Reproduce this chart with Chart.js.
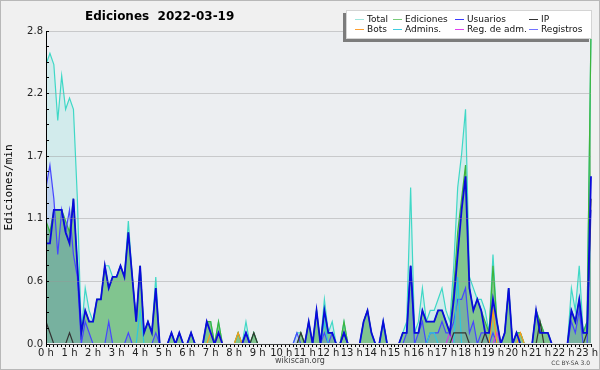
<!DOCTYPE html>
<html>
<head>
<meta charset="utf-8">
<script src="https://cdn.jsdelivr.net/npm/chart.js@4"></script>
<style>
  body { margin: 0; background: #f0f0f0; }
  #wrap { position: relative; width: 600px; height: 370px; overflow: hidden; background: #f0f0f0; }
  #chart { position: absolute; left: 0; top: 0; }
  #frame { position: absolute; left: 0; top: 0; width: 598px; height: 368px; border: 1px solid #b8b8b8; pointer-events: none; }
  #title { position: absolute; left: 85px; top: 9px; font: bold 12px "DejaVu Sans"; color: #000; white-space: pre; }
  #legend { position: absolute; left: 346px; top: 10px; width: 244px; height: 27px; background: #fff;
            border: 1px solid #d4d4d4; box-shadow: -3px 3px 0 #7c7c7c; font: 9px "DejaVu Sans"; color: #111; }
  #legend .item { position: absolute; height: 10px; line-height: 10px; white-space: nowrap; }
  #legend .sw { position: absolute; top: 5px; width: 9px; height: 1px; }
  #legend .tx { position: absolute; left: 12px; top: 0; }
  #site { position: absolute; left: 0; width: 600px; top: 356px; text-align: center; font: 8px "DejaVu Sans"; color: #444; }
  #lic { position: absolute; right: 10px; top: 359px; font: 6px "DejaVu Sans"; color: #444; }
</style>
</head>
<body>
<div id="wrap">
  <canvas id="chart" width="600" height="370"></canvas>
  <div id="title">Ediciones  2022-03-19</div>
  <div id="legend"></div>
  <div id="site">wikiscan.org</div>
  <div id="lic">CC BY-SA 3.0</div>
  <div id="frame"></div>
</div>
<script>
// edits per 10-minute bin, 0h00 .. 23h10 (one row = 2 hours)
const total = [
  25, 26, 25, 20, 24, 21, 22, 21, 13, 1, 5, 3,
  2, 4, 4, 7, 7, 6, 6, 7, 6, 11, 6, 2,
  7, 1, 2, 1, 6, 0, 0, 0, 1, 0, 1, 0,
  0, 1, 0, 0, 0, 2, 2, 0, 2, 0, 0, 0,
  0, 1, 0, 2, 0, 1, 0, 0, 0, 0, 0, 0,
  0, 0, 0, 0, 1, 1, 0, 2, 0, 3, 0, 4,
  1, 2, 0, 0, 2, 0, 0, 0, 0, 2, 3, 1,
  0, 0, 2, 0, 0, 0, 0, 1, 2, 14, 1, 2,
  5, 2, 3, 3, 4, 5, 3, 2, 7, 14, 17, 21,
  6, 5, 4, 4, 3, 1, 8, 2, 0, 1, 5, 0,
  1, 1, 0, 0, 0, 3, 2, 1, 1, 0, 0, 0,
  0, 0, 5, 3, 7, 1, 2, 28
];
const edits = [
  11, 10, 12, 12, 12, 11, 10, 13, 7, 1, 3, 2,
  2, 4, 4, 7, 5, 6, 6, 7, 6, 10, 6, 2,
  7, 1, 2, 1, 5, 0, 0, 0, 1, 0, 1, 0,
  0, 1, 0, 0, 0, 2, 2, 0, 2, 0, 0, 0,
  0, 1, 0, 1, 0, 1, 0, 0, 0, 0, 0, 0,
  0, 0, 0, 0, 0, 1, 0, 2, 0, 3, 0, 3,
  1, 1, 0, 0, 2, 0, 0, 0, 0, 2, 3, 1,
  0, 0, 2, 0, 0, 0, 0, 1, 1, 7, 1, 1,
  3, 2, 2, 2, 3, 3, 2, 1, 5, 10, 13, 16,
  5, 3, 4, 3, 2, 1, 7, 2, 0, 1, 5, 0,
  1, 1, 0, 0, 0, 3, 2, 1, 1, 0, 0, 0,
  0, 0, 3, 2, 4, 1, 2, 28
];
const users = [
  9, 9, 12, 12, 12, 10, 9, 13, 7, 1, 3, 2,
  2, 4, 4, 7, 5, 6, 6, 7, 6, 10, 6, 2,
  7, 1, 2, 1, 5, 0, 0, 0, 1, 0, 1, 0,
  0, 1, 0, 0, 0, 2, 1, 0, 1, 0, 0, 0,
  0, 0, 0, 1, 0, 0, 0, 0, 0, 0, 0, 0,
  0, 0, 0, 0, 0, 0, 0, 2, 0, 3, 0, 3,
  1, 1, 0, 0, 1, 0, 0, 0, 0, 2, 3, 1,
  0, 0, 2, 0, 0, 0, 0, 1, 1, 7, 1, 1,
  3, 2, 2, 2, 3, 3, 2, 1, 4, 8, 12, 15,
  5, 3, 4, 3, 1, 1, 4, 2, 0, 1, 5, 0,
  1, 0, 0, 0, 0, 3, 1, 1, 1, 0, 0, 0,
  0, 0, 3, 2, 4, 1, 1, 15
];
const ip = [
  2, 1, 0, 0, 0, 0, 1, 0, 0, 0, 0, 0,
  0, 0, 0, 0, 0, 0, 0, 0, 0, 0, 0, 0,
  0, 0, 0, 0, 0, 0, 0, 0, 0, 0, 0, 0,
  0, 0, 0, 0, 0, 0, 0, 0, 0, 0, 0, 0,
  0, 0, 0, 0, 0, 1, 0, 0, 0, 0, 0, 0,
  0, 0, 0, 0, 0, 1, 0, 0, 0, 0, 0, 0,
  0, 0, 0, 0, 1, 0, 0, 0, 0, 0, 0, 0,
  0, 0, 0, 0, 0, 0, 0, 0, 0, 0, 0, 0,
  0, 0, 0, 0, 0, 0, 0, 0, 1, 1, 1, 1,
  0, 0, 0, 0, 1, 0, 0, 0, 0, 0, 0, 0,
  0, 0, 0, 0, 0, 0, 2, 0, 0, 0, 0, 0,
  0, 0, 0, 0, 0, 0, 1, 13
];
const bots = [
  0, 0, 0, 0, 0, 0, 0, 0, 0, 0, 0, 0,
  0, 0, 0, 0, 0, 0, 0, 0, 0, 0, 0, 0,
  0, 0, 0, 0, 0, 0, 0, 0, 0, 0, 0, 0,
  0, 0, 0, 0, 0, 0, 1, 0, 1, 0, 0, 0,
  0, 1, 0, 0, 0, 0, 0, 0, 0, 0, 0, 0,
  0, 0, 0, 0, 0, 0, 0, 0, 0, 0, 0, 0,
  0, 0, 0, 0, 0, 0, 0, 0, 0, 0, 0, 0,
  0, 0, 0, 0, 0, 0, 0, 0, 0, 0, 0, 0,
  0, 0, 0, 0, 0, 0, 0, 0, 0, 0, 0, 0,
  0, 0, 0, 0, 0, 0, 3, 0, 0, 0, 0, 0,
  0, 1, 0, 0, 0, 0, 0, 0, 0, 0, 0, 0,
  0, 0, 0, 0, 0, 0, 0, 0
];
const admins = [
  0, 0, 0, 0, 0, 0, 0, 0, 0, 0, 0, 0,
  0, 0, 0, 0, 0, 0, 0, 0, 0, 0, 0, 0,
  3, 0, 0, 0, 0, 0, 0, 0, 0, 0, 0, 0,
  0, 0, 0, 0, 0, 0, 0, 0, 0, 0, 0, 0,
  0, 0, 0, 0, 0, 0, 0, 0, 0, 0, 0, 0,
  0, 0, 0, 0, 0, 0, 0, 0, 0, 0, 0, 2,
  0, 0, 0, 0, 0, 0, 0, 0, 0, 0, 0, 0,
  0, 0, 2, 0, 0, 0, 0, 0, 0, 0, 0, 0,
  0, 0, 1, 1, 0, 0, 0, 0, 0, 6, 0, 0,
  0, 0, 0, 0, 0, 0, 0, 0, 0, 0, 0, 0,
  0, 0, 0, 0, 0, 0, 0, 0, 0, 0, 0, 0,
  0, 0, 0, 0, 0, 0, 0, 0
];
const regAdmins = [
  0, 0, 0, 0, 0, 0, 0, 0, 0, 0, 0, 0,
  0, 0, 0, 0, 0, 0, 0, 0, 0, 0, 0, 0,
  0, 0, 0, 0, 0, 0, 0, 0, 0, 0, 0, 0,
  0, 0, 0, 0, 0, 0, 0, 0, 1, 0, 0, 0,
  0, 0, 0, 0, 0, 0, 0, 0, 0, 0, 0, 0,
  0, 0, 0, 0, 0, 0, 0, 0, 0, 0, 0, 0,
  0, 0, 0, 0, 0, 0, 0, 0, 0, 0, 0, 0,
  0, 0, 0, 0, 0, 0, 0, 0, 0, 0, 0, 0,
  0, 0, 0, 0, 0, 0, 0, 1, 0, 0, 0, 0,
  0, 0, 0, 0, 0, 0, 0, 1, 0, 0, 0, 0,
  0, 0, 0, 0, 0, 0, 0, 0, 0, 0, 0, 0,
  0, 0, 0, 0, 0, 0, 0, 0
];
const logs = [
  14, 16, 13, 8, 12, 10, 12, 8, 6, 0, 2, 1,
  0, 0, 0, 0, 2, 0, 0, 0, 0, 1, 0, 0,
  0, 0, 0, 0, 1, 0, 0, 0, 0, 0, 0, 0,
  0, 0, 0, 0, 0, 0, 0, 0, 0, 0, 0, 0,
  0, 0, 0, 1, 0, 0, 0, 0, 0, 0, 0, 0,
  0, 0, 0, 0, 1, 0, 0, 0, 0, 0, 0, 1,
  0, 1, 0, 0, 0, 0, 0, 0, 0, 0, 0, 0,
  0, 0, 0, 0, 0, 0, 0, 0, 1, 7, 0, 1,
  2, 0, 1, 1, 1, 2, 1, 1, 2, 4, 4, 5,
  1, 2, 0, 1, 1, 0, 1, 0, 0, 0, 0, 0,
  0, 0, 0, 0, 0, 0, 0, 0, 0, 0, 0, 0,
  0, 0, 2, 1, 3, 0, 0, 12
];

const yTicks = ['0.0', '0.6', '1.1', '1.7', '2.2', '2.8'];
const hourLabels = ['0 h', '1 h', '2 h', '3 h', '4 h', '5 h', '6 h', '7 h', '8 h', '9 h', '10 h', '11 h',
  '12 h', '13 h', '14 h', '15 h', '16 h', '17 h', '18 h', '19 h', '20 h', '21 h', '22 h', '23 h'];

// legend order as in the picture, with draw order (higher = further back)
const seriesDefs = [
  { label: 'Total', data: total, color: '#3fd8c6', order: 8, fill: 'rgba(64,224,208,0.15)' },
  { label: 'Ediciones', data: edits, color: '#3cb43c', order: 7, fill: 'rgba(30,150,30,0.45)' },
  { label: 'Usuarios', data: users, color: '#0a0adc', order: 1, width: 1.8 },
  { label: 'IP', data: ip, color: '#333333', order: 2 },
  { label: 'Bots', data: bots, color: '#ff9a1a', order: 3 },
  { label: 'Admins.', data: admins, color: '#2cc8e0', order: 4 },
  { label: 'Reg. de adm.', data: regAdmins, color: '#d83ae8', order: 5 },
  { label: 'Registros', data: logs, color: '#4646ff', order: 6, fill: 'rgba(70,70,255,0.15)' }
];

const legendColors = ['#9ee6dc', '#79cc79', '#3b3bff', '#333333', '#ffa030', '#40cde0', '#e040f0', '#7272ff'];
const legendSlots = [[0, 0], [1, 0], [2, 0], [3, 0], [0, 1], [1, 1], [2, 1], [3, 1]];
const legendCols = [8, 46, 108, 182];

const legendBox = document.getElementById('legend');
seriesDefs.forEach((s, i) => {
  const [col, row] = legendSlots[i];
  const item = document.createElement('div');
  item.className = 'item';
  item.style.left = legendCols[col] + 'px';
  item.style.top = (3 + row * 10) + 'px';
  item.innerHTML = '<span class="sw" style="background:' + legendColors[i] + '"></span><span class="tx">' + s.label + '</span>';
  legendBox.appendChild(item);
});

const plotBackground = {
  id: 'plotBackground',
  beforeDraw(chart) {
    const { ctx, chartArea: a } = chart;
    ctx.save();
    ctx.fillStyle = '#eceef1';
    ctx.fillRect(a.left, a.top, a.right - a.left, a.bottom - a.top);
    ctx.restore();
  }
};

const datasets = seriesDefs.map(s => ({
  label: s.label,
  data: s.data.map((v, i) => ({ x: i, y: v / 10 })),
  borderColor: s.color,
  backgroundColor: s.fill || 'rgba(0,0,0,0)',
  fill: s.fill ? 'origin' : false,
  borderWidth: s.width || 1.2,
  pointRadius: 0,
  tension: 0,
  order: s.order,
  // keep zero-level lines hidden behind the x axis
  clip: { left: 0, top: 2, right: 2, bottom: -1 }
}));

new Chart(document.getElementById('chart'), {
  type: 'line',
  data: { datasets },
  options: {
    responsive: false,
    animation: false,
    events: [],
    layout: { padding: { top: 31, right: 9, left: 0, bottom: 0 } },
    plugins: {
      legend: { display: false },
      tooltip: { enabled: false },
      filler: { drawTime: 'beforeDatasetsDraw' }
    },
    scales: {
      x: {
        type: 'linear',
        min: 0,
        max: total.length - 1,
        afterFit(scale) { scale.height = 26; },
        ticks: {
          stepSize: 1,
          autoSkip: false,
          maxRotation: 0,
          padding: 0,
          color: '#222',
          font: { family: 'DejaVu Sans', size: 10 },
          callback: v => (v % 6 === 0 ? hourLabels[v / 6] : '')
        },
        grid: { drawOnChartArea: false, tickLength: 3, tickColor: '#000' },
        border: { color: '#000', z: 1 }
      },
      y: {
        min: 0,
        max: 2.8,
        afterFit(scale) { scale.width = 46; },
        ticks: {
          stepSize: 0.14,
          autoSkip: false,
          padding: 6,
          color: '#222',
          font: { family: 'DejaVu Sans', size: 10 },
          callback: (v, i) => (i % 4 === 0 ? yTicks[i / 4] : '')
        },
        grid: {
          z: 1,
          color: ctx => (ctx.index % 4 === 0 ? 'rgba(150,150,150,0.42)' : 'rgba(0,0,0,0)'),
          tickColor: '#000',
          tickLength: -3
        },
        border: { color: '#000', z: 1 },
        title: {
          display: true,
          text: 'Ediciones/min',
          color: '#000',
          padding: { top: 3, bottom: 0 },
          font: { family: 'DejaVu Sans Mono', size: 11 }
        }
      }
    }
  },
  plugins: [plotBackground]
});
</script>
</body>
</html>
